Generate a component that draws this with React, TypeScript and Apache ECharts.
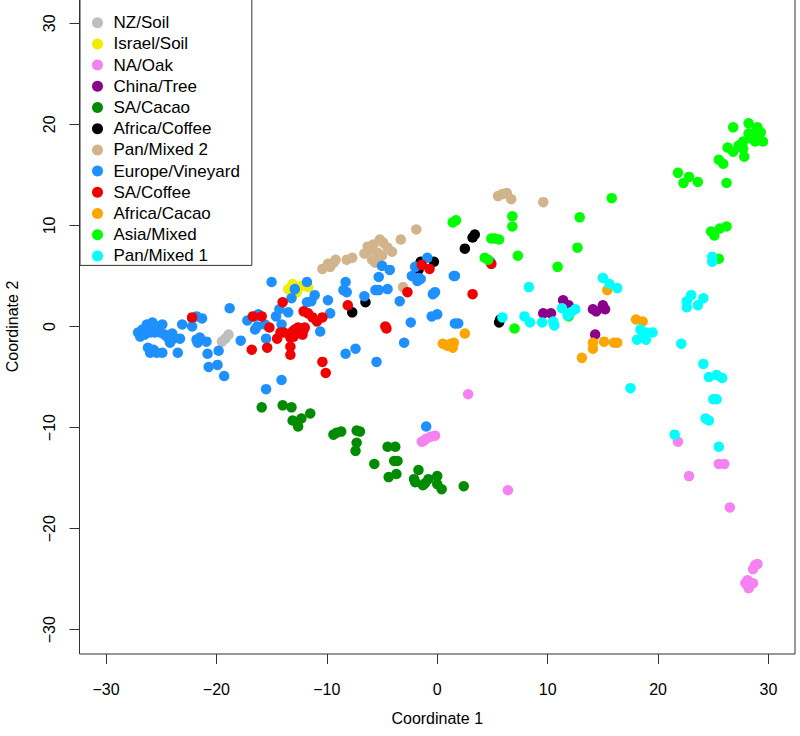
import React, { useEffect, useRef } from "react";
import * as echarts from "echarts";

const FONT = "'Liberation Sans', Arial, Helvetica, sans-serif";

const groupNames = [
  "NZ/Soil",
  "Israel/Soil",
  "NA/Oak",
  "China/Tree",
  "SA/Cacao",
  "Africa/Coffee",
  "Pan/Mixed 2",
  "Europe/Vineyard",
  "SA/Coffee",
  "Africa/Cacao",
  "Asia/Mixed",
  "Pan/Mixed 1",
];

const groupColors = [
  "#BEBEBE",
  "#EEEE00",
  "#F582F0",
  "#8B008B",
  "#008B00",
  "#000000",
  "#D2B48C",
  "#1E90FF",
  "#F00000",
  "#FFA500",
  "#00FF00",
  "#00FFFF",
];

const nzSoil = [[-19.5, -1.5], [-19.2, -1.2], [-18.9, -0.8]];

const israelSoil = [
  [-13.1, 4.2], [-13.5, 3.7], [-12.7, 3.4], [-11.7, 3.9], [-12.3, 4.0], [-13.0, 3.3],
];

const naOak = [
  [2.8, -6.7], [-1.4, -11.4], [-1.0, -11.1], [-0.6, -10.9], [-0.2, -10.8], [-1.2, -11.3],
  [6.4, -16.2], [21.8, -11.4], [22.8, -14.8], [25.5, -13.6], [26.0, -13.6], [26.5, -17.9],
  [28.8, -23.6], [28.6, -24.0], [29.0, -23.5], [28.2, -25.4], [27.9, -25.4], [28.2, -25.9],
  [28.6, -25.4], [28.1, -25.1],
];

const chinaTree = [
  [11.4, 2.6], [11.9, 2.1], [9.6, 1.3], [10.3, 1.3], [14.1, 1.7], [14.4, 1.5],
  [15.0, 2.1], [15.2, 1.7], [14.3, -0.8], [12.0, 1.6],
];

const saCacao = [
  [-15.9, -8.0], [-14.0, -7.8], [-13.2, -8.0], [-11.5, -8.6], [-13.1, -9.3], [-12.3, -9.1],
  [-12.6, -9.9], [-9.4, -10.7], [-9.1, -10.5], [-8.7, -10.4], [-7.3, -10.3], [-7.0, -10.4],
  [-7.3, -11.5], [-7.4, -12.3], [-4.5, -11.9], [-3.8, -11.9], [-5.7, -13.6], [-3.9, -13.3],
  [-3.6, -13.3], [-4.4, -14.9], [-3.7, -14.6], [-1.7, -14.2], [-2.1, -15.1], [-2.0, -15.4],
  [-1.3, -15.7], [-0.8, -15.1], [0.0, -14.8], [0.0, -15.6], [0.4, -16.1], [2.4, -15.8],
  [-1.1, -15.5],
];

const africaCoffee = [
  [3.4, 9.1], [3.2, 8.8], [2.5, 7.7], [-1.5, 6.4], [-0.3, 6.4], [-1.7, 5.6],
  [-6.5, 2.4], [-7.7, 1.4], [5.7, 0.7], [5.6, 0.4],
];

const panMixed2 = [
  [-10.4, 5.7], [-9.9, 6.2], [-9.4, 6.3], [-9.2, 6.6], [-9.7, 5.9], [-8.2, 6.6],
  [-7.7, 6.8], [-6.1, 7.6], [-6.3, 7.9], [-5.8, 8.1], [-5.2, 8.6], [-4.9, 8.3],
  [-4.5, 7.8], [-4.1, 7.4], [-5.4, 7.3], [-5.9, 6.6], [-5.6, 6.3], [-3.3, 8.6],
  [-1.9, 9.6], [-3.1, 3.9], [5.9, 13.1], [6.3, 13.2], [6.7, 12.6], [9.6, 12.3],
  [5.5, 12.9], [-6.6, 7.2], [-5.0, 7.0],
];

const europeVineyard = [
  [-27.1, -0.6], [-26.9, -1.0], [-26.7, -0.3], [-26.3, 0.2], [-25.8, 0.4], [-25.4, 0.0],
  [-24.9, 0.2], [-26.5, -0.8], [-26.0, -0.6], [-25.6, -0.6], [-25.1, -0.6], [-24.7, -0.8],
  [-24.0, -0.7], [-23.9, -1.2], [-24.4, -1.1], [-24.2, -1.6], [-23.3, -1.2], [-23.1, 0.2],
  [-22.2, 0.8], [-21.8, 1.0], [-21.3, 0.8], [-22.2, 0.0], [-26.2, -2.1], [-25.7, -2.3],
  [-26.0, -2.6], [-25.4, -2.6], [-24.9, -2.6], [-23.5, -2.6], [-21.8, -1.3], [-21.5, -1.1],
  [-21.7, -1.6], [-20.9, -1.5], [-20.8, -2.7], [-19.8, -2.4], [-19.9, -3.8], [-20.7, -4.0],
  [-19.3, -4.9], [-18.8, 1.8], [-17.8, -1.4], [-17.2, 0.6],
  [-16.5, 1.0], [-16.2, 1.2], [-16.3, 0.0], [-16.5, -0.3], [-15.6, 0.2], [-15.5, -1.2],
  [-15.0, 4.4], [-14.6, 1.0], [-14.3, 1.7], [-14.1, 0.2], [-13.5, 1.4], [-13.2, 2.8],
  [-12.9, 3.7], [-11.8, 4.4], [-11.8, 2.4], [-11.4, 2.5], [-11.1, 3.1], [-14.1, -5.3],
  [-15.5, -6.2], [-9.9, 2.6], [-9.7, 1.3], [-10.6, -0.5], [-8.3, 4.4], [-8.5, 3.6],
  [-8.2, 3.4], [-8.3, -2.7], [-7.4, -2.2], [-6.6, 3.0], [-5.6, 3.6], [-5.3, 3.6],
  [-4.5, 3.7], [-5.3, 4.9], [-5.0, 6.0], [-4.3, 5.6], [-2.3, 5.0], [-2.0, 5.9],
  [-1.8, 4.5], [-1.7, 4.8], [-0.9, 6.8], [-1.5, 4.7], [-0.4, 3.2], [-0.2, 3.4],
  [-3.4, 2.5], [-2.4, 0.4], [-0.5, 1.0], [0.0, 1.2], [1.5, 5.0], [1.6, 5.0],
  [1.6, 0.3], [1.9, 0.3], [-3.0, -1.6], [-5.5, -3.5], [-1.0, -9.9], [4.8, 6.4],
];

const saCoffee = [
  [-22.2, 0.9], [-16.7, 1.0], [-15.9, 1.0], [-15.2, -0.1], [-16.8, -2.3], [-15.4, -2.1],
  [-14.5, -1.2], [-14.2, -0.6], [-13.9, -0.6], [-14.0, 2.4], [-12.1, 1.5], [-11.7, 1.3],
  [-11.3, 0.9], [-10.9, 0.5], [-10.4, 0.9], [-13.1, -0.5], [-12.9, -0.3], [-12.6, -0.1],
  [-12.1, -0.3], [-13.3, -1.1], [-13.0, -1.0], [-13.3, -2.0], [-13.3, -2.8], [-12.2, -0.8],
  [-12.0, -0.1], [-10.4, -3.5], [-10.1, -4.6], [-8.1, 2.1], [-2.7, 3.4], [-1.4, 6.1],
  [-0.7, 5.7], [3.2, 3.2], [-4.7, 0.0], [-4.6, -0.2], [4.9, 6.2],
];

const africaCacao = [
  [0.5, -1.7], [1.2, -1.7], [1.4, -2.1], [1.5, -1.6], [0.9, -1.9], [2.5, -0.7],
  [13.1, -3.1], [14.1, -1.6], [14.1, -2.2], [15.1, -1.5], [16.0, -1.6], [16.3, -1.6],
  [18.0, 0.7], [18.6, 0.5], [15.4, 3.6],
];

const asiaMixed = [
  [1.4, 10.3], [1.7, 10.5], [4.9, 8.7], [5.2, 8.7], [5.6, 8.6], [6.8, 10.9],
  [6.8, 9.9], [4.3, 6.8], [4.6, 6.6], [7.3, 7.0], [10.9, 5.9], [12.7, 7.8],
  [12.9, 10.8], [15.8, 12.7], [7.0, -0.2], [11.9, 1.0],
  [26.8, 19.7], [28.2, 20.1], [29.0, 19.7], [29.3, 19.2], [28.2, 19.1], [28.6, 18.8],
  [29.1, 18.6], [29.5, 18.3], [28.8, 18.3], [27.7, 18.3], [27.3, 17.9], [27.7, 17.6],
  [26.8, 17.3], [26.3, 17.7], [27.8, 16.8], [25.5, 16.5], [25.9, 16.1], [21.8, 15.2],
  [22.8, 14.8], [22.3, 14.2], [23.6, 14.3], [26.2, 14.2], [24.8, 9.4], [25.1, 9.0],
  [25.6, 9.7], [26.2, 9.9], [25.5, 6.7], [28.9, 19.4], [28.4, 18.6],
];

const panMixed1 = [
  [8.3, 3.9], [5.9, 0.9], [7.9, 1.0], [8.4, 0.4], [9.5, 0.4], [10.5, 0.5],
  [10.6, 0.1], [11.3, 1.8], [12.1, 1.4], [12.5, 1.7], [11.8, 1.1], [15.0, 4.8],
  [15.6, 4.2], [16.3, 3.8], [18.4, -0.3], [18.9, -0.6], [19.5, -0.6], [18.1, -1.3],
  [18.9, -1.3], [18.6, -1.0], [22.1, -1.7], [22.6, 2.5], [23.0, 3.1], [24.1, 2.8],
  [23.6, 2.1], [22.6, 1.9], [17.5, -6.1], [24.1, -3.7], [24.6, -5.0], [25.3, -4.8],
  [25.8, -5.1], [25.0, -7.2], [25.3, -7.2], [24.3, -9.1], [24.6, -9.3], [21.5, -10.7],
  [25.5, -11.9], [24.9, 6.9], [24.9, 6.4],
];

const groupData = [
  nzSoil, israelSoil, naOak, chinaTree, saCacao, africaCoffee,
  panMixed2, europeVineyard, saCoffee, africaCacao, asiaMixed, panMixed1,
];

const tickValues = [-30, -20, -10, 0, 10, 20, 30];
const axisMin = -32.4;
const axisMax = 32.4;

const fmt = (v: number) => (v < 0 ? "\u2212" + Math.abs(v) : String(v));

export default function App() {
  const ref = useRef<HTMLDivElement>(null);

  useEffect(() => {
    if (!ref.current) return;
    const chart = echarts.init(ref.current, null, { renderer: "svg" });
    const axisCommon = {
      type: "value",
      min: axisMin,
      max: axisMax,
      splitLine: { show: false },
      axisLine: { show: false, onZero: false },
      axisTick: {
        show: true,
        customValues: tickValues,
        length: 10,
        lineStyle: { color: "#333", width: 1 },
      },
      nameLocation: "middle",
      nameTextStyle: { fontSize: 16, color: "#000", fontFamily: FONT },
    };
    chart.setOption({
      animation: false,
      textStyle: { fontFamily: FONT },
      grid: {
        left: 79.5,
        right: 5,
        top: -1,
        bottom: 82,
        show: true,
        borderColor: "#333",
        borderWidth: 1,
        backgroundColor: "#fff",
        containLabel: false,
        outerBoundsMode: "none",
      },
      xAxis: {
        ...axisCommon,
        name: "Coordinate 1",
        nameGap: 56,
        axisLabel: {
          customValues: tickValues,
          formatter: fmt,
          fontSize: 16,
          color: "#000",
          margin: 27,
          fontFamily: FONT,
        },
      },
      yAxis: {
        ...axisCommon,
        name: "Coordinate 2",
        nameGap: 59,
        axisLabel: {
          customValues: tickValues,
          formatter: fmt,
          fontSize: 16,
          color: "#000",
          margin: 22,
          rotate: 90,
          fontFamily: FONT,
        },
      },
      legend: {
        orient: "vertical",
        left: 80,
        top: -1,
        padding: [15.2, 12, 1, 12],
        itemWidth: 22,
        itemHeight: 11,
        itemGap: 4.2,
        icon: "circle",
        selectedMode: false,
        borderColor: "#333",
        borderWidth: 1,
        backgroundColor: "#fff",
        textStyle: { fontSize: 17, lineHeight: 17, color: "#000", fontFamily: FONT },
        data: groupNames,
      },
      series: groupNames.map((name, i) => ({
        name,
        type: "scatter",
        data: groupData[i],
        symbol: "circle",
        symbolSize: 10.5,
        itemStyle: { color: groupColors[i], opacity: 1 },
        emphasis: { disabled: true },
      })),
    });
    return () => chart.dispose();
  }, []);

  return (
    <div
      ref={ref}
      style={{ position: "absolute", left: 0, top: 0, width: 800, height: 736 }}
    />
  );
}
